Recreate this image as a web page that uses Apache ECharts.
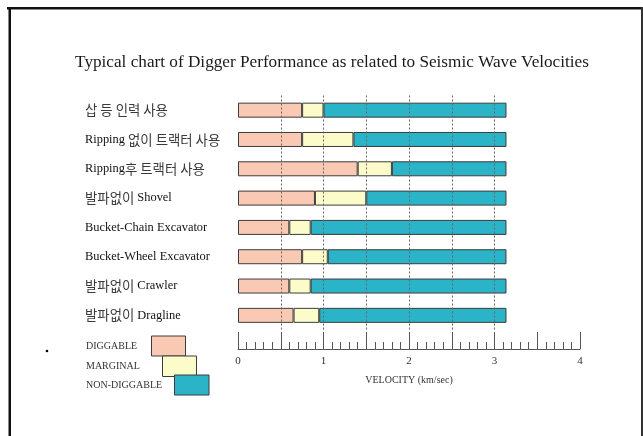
<!DOCTYPE html>
<html>
<head>
<meta charset="utf-8">
<script src="https://cdn.jsdelivr.net/npm/echarts@6/dist/echarts.min.js"></script>
<style>
  html, body { margin: 0; padding: 0; background: #fff; }
  #chart { width: 643px; height: 436px; }
</style>
</head>
<body>
<div id="chart"></div>
<script>
// 굴착 장비 (top to bottom)
var categories = [
  '삽 등 인력 사용',
  'Ripping 없이 트랙터 사용',
  'Ripping후 트랙터 사용',
  '발파없이 Shovel',
  'Bucket-Chain Excavator',
  'Bucket-Wheel Excavator',
  '발파없이 Crawler',
  '발파없이 Dragline'
];
// segment lengths in km/sec
var diggable    = [0.75, 0.75, 1.40, 0.90, 0.60, 0.75, 0.60, 0.65];
var marginal    = [0.25, 0.60, 0.40, 0.60, 0.25, 0.30, 0.25, 0.30];
var nonDiggable = [2.14, 1.79, 1.34, 1.64, 2.29, 2.09, 2.29, 2.19];
var gridLines   = [0.5, 1, 1.5, 2, 2.5, 3];

var serif = "'Liberation Serif', 'Noto Sans CJK KR', serif";
var colors = { diggable: '#f9c9b4', marginal: '#fcfbca', non: '#2bb3c7' };

var myChart = echarts.init(document.getElementById('chart'));

function barSeries(name, data, color) {
  return {
    name: name,
    type: 'bar',
    stack: 'v',
    barWidth: 15,
    data: data,
    itemStyle: { color: color, borderColor: '#3c3c3c', borderWidth: 1 },
    silent: true
  };
}

// 한글 부분은 조금 크게, 회색으로
function labelFormatter(v) {
  return v.replace(/([\uAC00-\uD7A3][\uAC00-\uD7A3 ]*[\uAC00-\uD7A3]|[\uAC00-\uD7A3])/g, '{k|$1}')
          .replace(/(^|\})([^{}]+)(?=\{|$)/g, '$1{e|$2}');
}

var series = [
  barSeries('DIGGABLE', diggable, colors.diggable),
  barSeries('MARGINAL', marginal, colors.marginal),
  barSeries('NON-DIGGABLE', nonDiggable, colors.non)
];
series[2].markLine = {
  silent: true,
  symbol: 'none',
  label: { show: false },
  lineStyle: { color: '#666', width: 1, type: [2, 2] },
  data: gridLines.map(function (v) { return { xAxis: v }; })
};

myChart.setOption({
  animation: false,
  title: {
    text: 'Typical chart of Digger Performance as related to Seismic Wave Velocities',
    left: 327,
    textAlign: 'center',
    top: 49,
    textStyle: { fontFamily: serif, fontSize: 17.2, fontWeight: 'normal', color: '#1a1a1a' }
  },
  grid: { left: 238, right: 63, top: 95.5, height: 234.5 },
  xAxis: {
    type: 'value',
    min: 0,
    max: 4,
    interval: 0.5,
    offset: 19,
    name: 'VELOCITY (km/sec)',
    nameLocation: 'middle',
    nameGap: 26,
    nameTextStyle: { fontFamily: serif, fontSize: 10, color: '#333' },
    axisLine: { show: true, lineStyle: { color: '#555', width: 1 } },
    axisTick: { show: true, inside: true, length: 17, lineStyle: { color: '#555' } },
    minorTick: { show: true, splitNumber: 5, length: 7, lineStyle: { color: '#555' } },
    axisLabel: {
      margin: 7,
      fontFamily: serif,
      fontSize: 11,
      color: '#333',
      formatter: function (v) { return v % 1 === 0 ? String(v) : ''; }
    },
    splitLine: { show: false }
  },
  yAxis: {
    type: 'category',
    inverse: true,
    data: categories,
    axisLine: { show: false },
    axisTick: { show: false },
    axisLabel: {
      align: 'left',
      margin: 153,
      fontFamily: serif,
      fontSize: 12.4,
      color: '#111',
      formatter: labelFormatter,
      rich: {
        e: { fontFamily: serif, fontSize: 12.4, color: '#111' },
        k: { fontFamily: "'Noto Sans CJK KR', sans-serif", fontSize: 13.4, color: '#3a3a3a' }
      }
    }
  },
  graphic: [
    // frame
    { type: 'rect', shape: { x: 7, y: 7, width: 636, height: 2.5 }, style: { fill: '#111' } },
    { type: 'rect', shape: { x: 8.5, y: 7, width: 2.5, height: 429 }, style: { fill: '#111' } },
    { type: 'rect', shape: { x: 641, y: 7, width: 2, height: 429 }, style: { fill: '#333' } },
    { type: 'circle', shape: { cx: 47, cy: 351, r: 1.3 }, style: { fill: '#000' } },
    // legend
    { type: 'text', left: 86, top: 341, style: { text: 'DIGGABLE', fontFamily: serif, fontSize: 10, fill: '#333' } },
    { type: 'text', left: 86, top: 361, style: { text: 'MARGINAL', fontFamily: serif, fontSize: 10, fill: '#333' } },
    { type: 'text', left: 86, top: 380, style: { text: 'NON-DIGGABLE', fontFamily: serif, fontSize: 10, fill: '#333' } },
    { type: 'rect', shape: { x: 151.5, y: 336, width: 34, height: 20 }, style: { fill: colors.diggable, stroke: '#3c3c3c', lineWidth: 1 } },
    { type: 'rect', shape: { x: 162.5, y: 356, width: 34, height: 20.5 }, style: { fill: colors.marginal, stroke: '#3c3c3c', lineWidth: 1 } },
    { type: 'rect', shape: { x: 174.5, y: 375, width: 34.5, height: 20 }, style: { fill: colors.non, stroke: '#3c3c3c', lineWidth: 1 } }
  ],
  series: series
});

window.addEventListener('resize', function () {
  myChart.resize();
});
</script>
</body>
</html>
